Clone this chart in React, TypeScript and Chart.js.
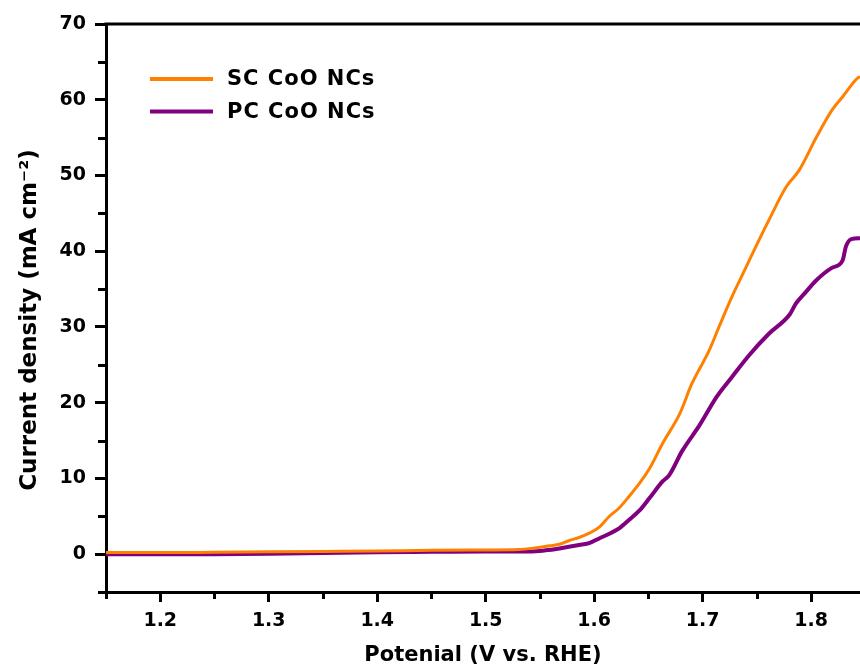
import React, { useEffect, useRef } from "react";
import { Chart, registerables } from "chart.js";

Chart.register(...registerables);

// Potential (V vs. RHE) and current density (mA cm^-2)
const scPotential = [1.15, 1.2, 1.25, 1.3, 1.35, 1.4, 1.45, 1.5, 1.53, 1.545, 1.559, 1.568, 1.577, 1.586, 1.596, 1.605, 1.614, 1.623, 1.632, 1.642, 1.651, 1.663, 1.679, 1.69, 1.706, 1.715, 1.727, 1.74, 1.752, 1.761, 1.777, 1.789, 1.805, 1.819, 1.829, 1.841, 1.845];
const scCurrent = [0.2, 0.2, 0.25, 0.3, 0.35, 0.4, 0.5, 0.55, 0.6, 0.8, 1.1, 1.3, 1.8, 2.2, 2.8, 3.6, 5.0, 6.1, 7.6, 9.4, 11.3, 14.6, 18.6, 22.5, 26.9, 30.0, 34.0, 37.9, 41.5, 44.1, 48.5, 50.7, 55.1, 58.6, 60.4, 62.6, 63.1];

const pcPotential = [1.15, 1.2, 1.25, 1.3, 1.35, 1.4, 1.45, 1.5, 1.54, 1.555, 1.568, 1.586, 1.596, 1.605, 1.614, 1.623, 1.632, 1.642, 1.651, 1.663, 1.669, 1.681, 1.697, 1.713, 1.727, 1.743, 1.761, 1.78, 1.786, 1.795, 1.805, 1.819, 1.829, 1.832, 1.837, 1.845];
const pcCurrent = [0, 0, 0, 0.05, 0.15, 0.25, 0.3, 0.35, 0.35, 0.5, 0.75, 1.2, 1.5, 2.1, 2.7, 3.4, 4.5, 5.8, 7.4, 9.6, 10.4, 13.6, 17.0, 20.8, 23.4, 26.3, 29.1, 31.6, 33.1, 34.6, 36.2, 37.8, 38.8, 40.6, 41.6, 41.7];

const seriesLabels = ["SC CoO NCs", "PC CoO NCs"];
const seriesColors = ["#FF8000", "#800080"];

const xTitle = "Potenial (V vs. RHE)";
const yTitle = "Current density (mA cm⁻²)   ";

const xMin = 1.15;
const xMax = 1.845;
const yMin = -5;
const yMax = 70;

const FONT = "DejaVu Sans";

const isMajorX = (v: number) => Math.round(v * 100) % 10 === 0;
const isMajorY = (v: number) => Math.round(v) % 10 === 0;

const framePlugin = {
  id: "frame",
  afterDraw(chart: any) {
    const { ctx, chartArea } = chart;
    const xs = chart.scales.x;
    const ys = chart.scales.y;
    ctx.save();
    ctx.strokeStyle = "#000";
    ctx.lineWidth = 3;
    // top frame line
    ctx.beginPath();
    ctx.moveTo(chartArea.left - 1.5, chartArea.top);
    ctx.lineTo(chart.width, chartArea.top);
    ctx.stroke();
    // minor ticks
    ys.ticks.forEach((t: any) => {
      if (!isMajorY(t.value)) {
        const y = Math.round(ys.getPixelForValue(t.value)) + 0.5;
        ctx.beginPath();
        ctx.moveTo(chartArea.left - 8, y);
        ctx.lineTo(chartArea.left, y);
        ctx.stroke();
      }
    });
    xs.ticks.forEach((t: any) => {
      if (!isMajorX(t.value)) {
        const x = Math.round(xs.getPixelForValue(t.value)) + 0.5;
        ctx.beginPath();
        ctx.moveTo(x, chartArea.bottom);
        ctx.lineTo(x, chartArea.bottom + 7);
        ctx.stroke();
      }
    });
    // legend
    ctx.font = `bold 21px "${FONT}"`;
    ctx.textBaseline = "middle";
    ctx.textAlign = "left";
    chart.data.datasets.forEach((ds: any, i: number) => {
      const y = 79 + i * 32.5;
      ctx.strokeStyle = ds.borderColor;
      ctx.lineWidth = 4;
      ctx.beginPath();
      ctx.moveTo(150, y);
      ctx.lineTo(213, y);
      ctx.stroke();
      ctx.fillStyle = "#000";
      (ctx as any).letterSpacing = "1px";
      ctx.fillText(ds.label, 227, y + 1);
      (ctx as any).letterSpacing = "0px";
    });
    ctx.restore();
  },
};

export default function App() {
  const ref = useRef<HTMLCanvasElement | null>(null);

  useEffect(() => {
    if (!ref.current) return;
    const data1 = scPotential.map((x, i) => ({ x, y: scCurrent[i] }));
    const data2 = pcPotential.map((x, i) => ({ x, y: pcCurrent[i] }));
    const chart = new Chart(ref.current, {
      type: "line",
      data: {
        datasets: [
          {
            label: seriesLabels[0],
            data: data1,
            borderColor: seriesColors[0],
            backgroundColor: seriesColors[0],
            borderWidth: 3,
            pointRadius: 0,
            cubicInterpolationMode: "monotone",
          },
          {
            label: seriesLabels[1],
            data: data2,
            borderColor: seriesColors[1],
            backgroundColor: seriesColors[1],
            borderWidth: 4,
            pointRadius: 0,
            cubicInterpolationMode: "monotone",
          },
        ],
      },
      options: {
        responsive: false,
        animation: false,
        layout: { padding: { top: 24, left: 0, right: 0, bottom: 0 } },
        plugins: {
          legend: { display: false },
          tooltip: { enabled: false },
        },
        scales: {
          x: {
            type: "linear",
            min: xMin,
            max: xMax,
            afterFit: (s: any) => {
              s.height = 79;
            },
            border: { display: true, color: "#000", width: 3 },
            grid: {
              drawOnChartArea: false,
              drawTicks: true,
              tickLength: 10,
              tickWidth: 3,
              tickColor: (c: any) => (c.tick && isMajorX(c.tick.value) ? "#000" : "rgba(0,0,0,0)"),
            },
            ticks: {
              stepSize: 0.05,
              includeBounds: false,
              autoSkip: false,
              maxRotation: 0,
              padding: 8,
              color: "#000",
              font: { family: FONT, size: 19, weight: "bold" },
              callback: (v: any) => (isMajorX(Number(v)) ? Number(v).toFixed(1) : ""),
            },
            title: {
              display: true,
              text: xTitle,
              color: "#000",
              font: { family: FONT, size: 21, weight: "bold" },
              padding: { top: 0, bottom: 3 },
            },
          },
          y: {
            type: "linear",
            min: yMin,
            max: yMax,
            afterFit: (s: any) => {
              s.width = 106;
            },
            border: { display: true, color: "#000", width: 3 },
            grid: {
              drawOnChartArea: false,
              drawTicks: true,
              tickLength: 11,
              tickWidth: 3,
              tickColor: (c: any) => (c.tick && isMajorY(c.tick.value) ? "#000" : "rgba(0,0,0,0)"),
            },
            ticks: {
              stepSize: 5,
              autoSkip: false,
              padding: 9,
              color: "#000",
              font: { family: FONT, size: 19, weight: "bold" },
              callback: (v: any) => (isMajorY(Number(v)) ? String(Math.round(Number(v))) : ""),
            },
            title: {
              display: true,
              text: yTitle,
              color: "#000",
              font: { family: FONT, size: 23, weight: "bold" },
              padding: { top: 16, bottom: 0 },
            },
          },
        },
      },
      plugins: [framePlugin],
    });
    return () => chart.destroy();
  }, []);

  return (
    <div style={{ position: "fixed", left: 0, top: 0, width: 860, height: 671, background: "#fff" }}>
      <canvas ref={ref} width={860} height={671} style={{ display: "block", width: 860, height: 671 }} />
    </div>
  );
}
